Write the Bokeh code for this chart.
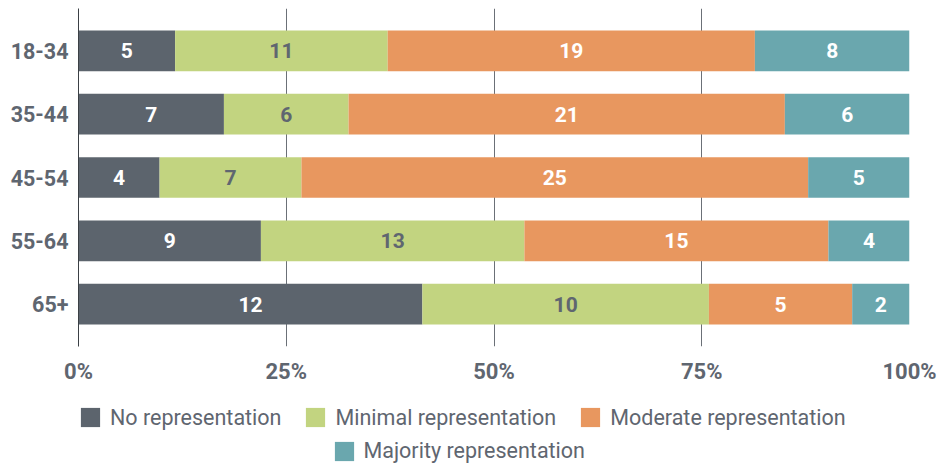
from bokeh.plotting import figure
from bokeh.layouts import column
from bokeh.models import (ColumnDataSource, Range1d, FixedTicker,
                          Legend, LegendItem, PrintfTickFormatter)
from bokeh.core.properties import value
from bokeh.embed import file_html
from bokeh.resources import INLINE

# ---- data ----
categories = ["18-34", "35-44", "45-54", "55-64", "65+"]
series = ["No representation", "Minimal representation",
          "Moderate representation", "Majority representation"]
no_rep = [5, 7, 4, 9, 12]
minimal_rep = [11, 6, 7, 13, 10]
moderate_rep = [19, 21, 25, 15, 5]
majority_rep = [8, 6, 5, 4, 2]
x_ticks = [0, 25, 50, 75, 100]

# ---- styles ----
colors = ["#5c646d", "#c2d480", "#e8975f", "#6aa7ae"]
label_colors = ["#ffffff", "#5f6670", "#ffffff", "#ffffff"]
TEXT = "#5f6670"
FONT = "Roboto"

counts = [no_rep, minimal_rep, moderate_rep, majority_rep]
totals = [sum(c) for c in zip(*counts)]
ypos = list(range(len(categories)))
n = len(categories)

p = figure(width=938, height=386,
           x_range=Range1d(0, 100),
           y_range=Range1d(n - 1 + 0.667, -0.667),
           output_backend="svg", toolbar_location=None,
           min_border_left=78, min_border_right=29,
           min_border_top=8, min_border_bottom=38)
p.outline_line_color = None
p.background_fill_color = "white"
p.border_fill_color = "white"

sources = []
left = [0.0] * n
for k, (name, vals) in enumerate(zip(series, counts)):
    pct = [v / t * 100 for v, t in zip(vals, totals)]
    right = [l + pc for l, pc in zip(left, pct)]
    src = ColumnDataSource(dict(
        y=ypos, left=left, right=right,
        mid=[(l + r) / 2 for l, r in zip(left, right)],
        label=[str(v) for v in vals]))
    p.hbar(y="y", left="left", right="right", height=0.643, source=src,
           fill_color=colors[k], line_color=None)
    p.text(x="mid", y="y", text="label", source=src,
           text_align="center", text_baseline="middle",
           text_color=label_colors[k], text_font=value(FONT),
           text_font_style="bold", text_font_size="21px")
    sources.append(src)
    left = right

# x axis
xa = p.xaxis[0]
xa.ticker = FixedTicker(ticks=x_ticks)
xa.formatter = PrintfTickFormatter(format="%d%%")
xa.axis_line_color = None
xa.major_tick_line_color = None
xa.minor_tick_line_color = None
xa.major_tick_out = 0
xa.major_tick_in = 0
xa.major_label_standoff = 12
xa.major_label_text_font = FONT
xa.major_label_text_font_style = "bold"
xa.major_label_text_font_size = "22px"
xa.major_label_text_color = TEXT

# y axis
ya = p.yaxis[0]
ya.ticker = FixedTicker(ticks=ypos)
ya.major_label_overrides = {i: c for i, c in zip(ypos, categories)}
ya.axis_line_color = "#3b4045"
ya.axis_line_width = 1
ya.major_tick_line_color = None
ya.minor_tick_line_color = None
ya.major_tick_out = 0
ya.major_tick_in = 0
ya.major_label_standoff = 10
ya.major_label_text_font = FONT
ya.major_label_text_font_style = "bold"
ya.major_label_text_font_size = "21.5px"
ya.major_label_text_color = TEXT

p.xgrid.ticker = FixedTicker(ticks=x_ticks)
p.xgrid.grid_line_color = "#6b7077"
p.ygrid.grid_line_color = None

# ---- legend strip (frame is aligned with the chart frame) ----
lg = figure(width=938, height=77, x_range=Range1d(0, 100), y_range=Range1d(-0.667, n - 1 + 0.667),
            output_backend="svg", toolbar_location=None,
            x_axis_location=None, y_axis_location=None,
            min_border_left=0, min_border_right=0, min_border_top=0, min_border_bottom=0)
lg.outline_line_color = None
lg.grid.grid_line_color = None
lg.border_fill_color = "white"

swatches = []
for k in range(len(series)):
    swatches.append(lg.hbar(y="y", left="left", right="right", height=0.643,
                            source=sources[k], fill_color=colors[k],
                            line_color=None, visible=False))


def make_legend(idx, loc):
    return Legend(items=[LegendItem(label=series[k], renderers=[swatches[k]]) for k in idx],
                  orientation="horizontal", location=loc,
                  glyph_width=24, glyph_height=24, label_standoff=8, spacing=22,
                  padding=0, margin=0,
                  border_line_color=None, background_fill_alpha=0,
                  label_text_font=FONT, label_text_font_size="21.5px",
                  label_text_color=TEXT)


lg.add_layout(make_legend([0, 1, 2], (0, 33.5)), "center")
lg.add_layout(make_legend([3], (253.5, 0)), "center")

layout = column(p, lg, spacing=0)
open("out.html", "w").write(file_html(layout, INLINE))
